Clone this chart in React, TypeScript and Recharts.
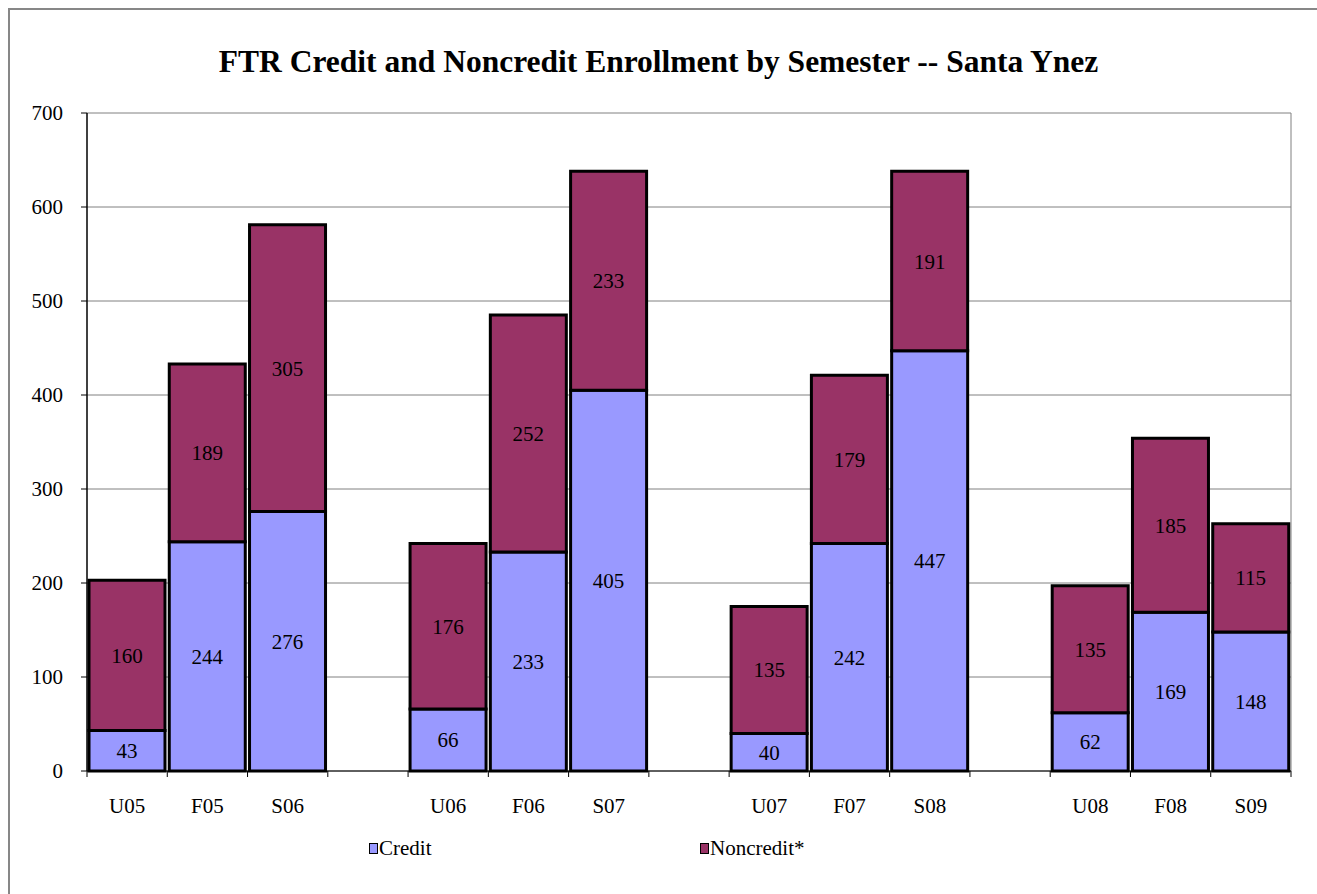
import React from "react";
import { BarChart, Bar, XAxis, YAxis, CartesianGrid, LabelList } from "recharts";

const semesters = ["U05", "F05", "S06", "", "U06", "F06", "S07", "", "U07", "F07", "S08", "", "U08", "F08", "S09"];
const creditValues: (number | null)[] = [43, 244, 276, null, 66, 233, 405, null, 40, 242, 447, null, 62, 169, 148];
const noncreditValues: (number | null)[] = [160, 189, 305, null, 176, 252, 233, null, 135, 179, 191, null, 135, 185, 115];
const yTicks = [0, 100, 200, 300, 400, 500, 600, 700];
const seriesNames = ["Credit", "Noncredit*"];
const seriesColors = ["#9999FF", "#993366"];
const title = "FTR Credit and Noncredit Enrollment by Semester -- Santa Ynez";

const data = semesters.map((s, i) => ({
  name: s,
  credit: creditValues[i],
  noncredit: noncreditValues[i],
}));

const FONT = "'Liberation Serif', 'Times New Roman', serif";
const FS = 21;
const W = 1317;
const H = 894;
const M = { top: 113, left: 27, right: 26, bottom: 73 };
const YW = 60;
const XH = 50;
const plotWidth = W - M.left - YW - M.right;
const band = plotWidth / semesters.length;

const XTick = (props: any) => {
  const { x, y, payload, index } = props;
  const last = index === semesters.length - 1;
  return (
    <g>
      <line x1={x - band / 2} x2={x - band / 2} y1={y} y2={y + 6} stroke="#000" strokeWidth={1} />
      {last && <line x1={x + band / 2} x2={x + band / 2} y1={y} y2={y + 6} stroke="#000" strokeWidth={1} />}
      <text x={x} y={y + 42} textAnchor="middle" fontFamily={FONT} fontSize={FS} fill="#000">
        {payload.value}
      </text>
    </g>
  );
};

const fmt = (v: any) => (v === null || v === undefined ? "" : v);

export default function App() {
  return (
    <div style={{ position: "fixed", left: 0, top: 0, width: W, height: H, overflow: "hidden", background: "#fff" }}>
      <div
        style={{
          position: "absolute",
          left: 8,
          top: 8,
          width: 1400,
          height: 1000,
          border: "2px solid #878787",
        }}
      />
      <div
        style={{
          position: "absolute",
          left: 0,
          width: 1317,
          top: 45,
          textAlign: "center",
          fontFamily: FONT,
          fontWeight: "bold",
          fontSize: 31.5,
          lineHeight: "34px",
        }}
      >
        {title}
      </div>
      <div style={{ position: "absolute", left: 0, top: 0 }}>
        <BarChart width={W} height={H} data={data} margin={M} barCategoryGap={2}>
          <CartesianGrid
            vertical={true}
            verticalCoordinatesGenerator={(p: any) => [p.offset.left + p.offset.width]}
            stroke="#808080"
            strokeWidth={1}
          />
          <XAxis
            dataKey="name"
            height={XH}
            axisLine={{ stroke: "#000", strokeWidth: 1 }}
            tickLine={false}
            tickSize={0}
            tickMargin={0}
            interval={0}
            tick={<XTick />}
          />
          <YAxis
            width={YW}
            domain={[0, 700]}
            ticks={yTicks}
            interval={0}
            axisLine={{ stroke: "#000", strokeWidth: 1.5 }}
            tickLine={{ stroke: "#000", strokeWidth: 1 }}
            tickSize={6}
            tickMargin={18}
            tick={{ fontFamily: FONT, fontSize: FS, fill: "#000" }}
          />
          <Bar
            dataKey="credit"
            name={seriesNames[0]}
            stackId="a"
            fill={seriesColors[0]}
            stroke="#000"
            strokeWidth={3}
            isAnimationActive={false}
          >
            <LabelList dataKey="credit" position="center" formatter={fmt} fill="#000" fontFamily={FONT} fontSize={FS} />
          </Bar>
          <Bar
            dataKey="noncredit"
            name={seriesNames[1]}
            stackId="a"
            fill={seriesColors[1]}
            stroke="#000"
            strokeWidth={3}
            isAnimationActive={false}
          >
            <LabelList dataKey="noncredit" position="center" formatter={fmt} fill="#000" fontFamily={FONT} fontSize={FS} />
          </Bar>
        </BarChart>
      </div>
      {seriesNames.map((n, i) => (
        <div
          key={n}
          style={{
            position: "absolute",
            left: i === 0 ? 369 : 700,
            top: 837,
            display: "flex",
            alignItems: "center",
            fontFamily: FONT,
            fontSize: FS,
            lineHeight: "22px",
          }}
        >
          <span
            style={{
              display: "inline-block",
              width: 7,
              height: 9,
              background: seriesColors[i],
              border: "1.5px solid #000",
              marginRight: 1,
            }}
          />
          <span>{n}</span>
        </div>
      ))}
    </div>
  );
}
